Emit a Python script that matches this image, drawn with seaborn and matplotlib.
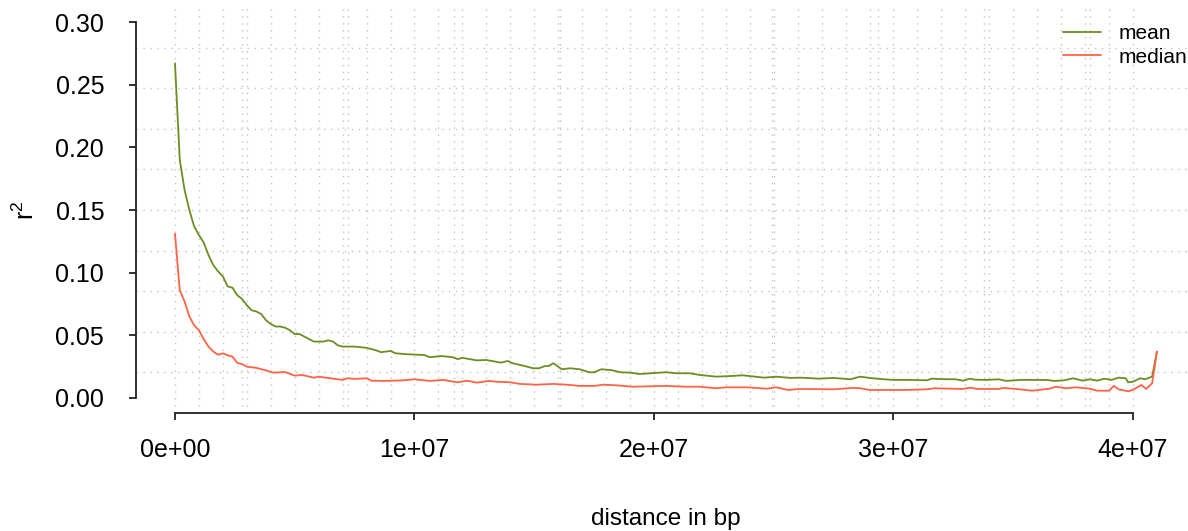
import numpy as np
import pandas as pd
import matplotlib
matplotlib.use("Agg")
import matplotlib.pyplot as plt
import seaborn as sns

# ---------------- data (distance in Mb, r^2) ----------------
mean_dist_mb = [0.0, 0.2, 0.4, 0.6, 0.8, 1.0, 1.2, 1.4, 1.6, 1.8, 2.0, 2.2, 2.4, 2.6, 2.8,
                3.0, 3.2, 3.4, 3.6, 3.8, 4.0, 4.2, 4.4, 4.6, 4.8, 5.0, 5.2, 5.5, 5.8, 6.2,
                6.4, 6.6, 6.8, 7.0, 7.5, 8.0, 8.2, 8.4, 8.6, 9.0, 9.2, 9.6, 10.0, 10.4, 10.65,
                11.1, 11.6, 11.8, 12.0, 12.6, 13.0, 13.6, 13.9, 14.1, 14.6, 14.95, 15.2, 15.45,
                15.6, 15.8, 16.15, 16.5, 16.9, 17.3, 17.5, 17.8, 18.2, 18.6, 19.0, 19.4, 20.0,
                20.5, 20.95, 21.5, 21.9, 22.6, 23.3, 23.7, 24.6, 25.1, 25.7, 26.1, 26.9, 27.5,
                28.2, 28.6, 29.0, 29.4, 30.0, 30.7, 31.4, 31.6, 32.1, 32.6, 32.9, 33.2, 33.4,
                33.9, 34.4, 34.7, 35.3, 35.8, 36.4, 36.7, 37.1, 37.5, 37.9, 38.2, 38.5, 38.8,
                39.1, 39.4, 39.7, 39.8, 40.0, 40.3, 40.5, 40.8, 41.0]
mean_r2 = [0.267, 0.190, 0.166, 0.150, 0.137, 0.130, 0.124, 0.114, 0.106, 0.101, 0.097, 0.089,
           0.088, 0.082, 0.079, 0.074, 0.070, 0.069, 0.067, 0.062, 0.059, 0.057, 0.057, 0.056,
           0.054, 0.051, 0.051, 0.048, 0.045, 0.045, 0.046, 0.045, 0.042, 0.041, 0.041, 0.040,
           0.039, 0.038, 0.0365, 0.0375, 0.0357, 0.0350, 0.0346, 0.0343, 0.0325, 0.0335, 0.0325,
           0.0310, 0.0320, 0.0300, 0.0303, 0.0282, 0.0295, 0.0277, 0.0255, 0.0237, 0.0237,
           0.0255, 0.0255, 0.0277, 0.0229, 0.0237, 0.0229, 0.0205, 0.0205, 0.0229, 0.0223,
           0.0205, 0.0202, 0.0191, 0.0199, 0.0205, 0.0197, 0.0197, 0.0184, 0.0170, 0.0176,
           0.0181, 0.0162, 0.0170, 0.0160, 0.0162, 0.0154, 0.0160, 0.0149, 0.0170, 0.0160,
           0.0152, 0.0144, 0.0144, 0.0141, 0.0154, 0.0150, 0.0149, 0.0138, 0.0154, 0.0146,
           0.0144, 0.0149, 0.0136, 0.0144, 0.0144, 0.0144, 0.0136, 0.0140, 0.0157, 0.0138,
           0.0149, 0.0138, 0.0154, 0.0144, 0.0162, 0.0157, 0.0125, 0.0130, 0.0157, 0.0149,
           0.0170, 0.0370]

median_dist_mb = [0.0, 0.2, 0.4, 0.6, 0.8, 1.0, 1.2, 1.4, 1.6, 1.8, 2.0, 2.2, 2.4, 2.6, 2.8,
                  3.0, 3.4, 3.8, 4.1, 4.6, 5.0, 5.3, 5.8, 6.0, 6.3, 7.0, 7.2, 7.5, 8.0, 8.2,
                  8.7, 9.5, 10.0, 10.65, 11.2, 11.8, 12.2, 12.6, 13.1, 13.4, 14.0, 14.4, 15.1,
                  15.8, 16.35, 16.9, 17.5, 17.9, 18.5, 19.1, 20.5, 21.3, 21.9, 22.6, 23.0, 23.9,
                  24.7, 25.1, 25.6, 26.1, 27.5, 28.3, 28.6, 29.0, 30.0, 30.55, 31.4, 31.7, 32.9,
                  33.2, 33.5, 34.4, 34.6, 35.1, 35.8, 36.5, 36.8, 37.2, 37.6, 38.2, 38.5, 39.0,
                  39.2, 39.4, 39.8, 40.0, 40.35, 40.55, 40.8, 41.0]
median_r2 = [0.131, 0.086, 0.077, 0.065, 0.058, 0.054, 0.047, 0.041, 0.037, 0.0345, 0.0356,
             0.0340, 0.0330, 0.0280, 0.0270, 0.0250, 0.0240, 0.0220, 0.0202, 0.0207, 0.0178,
             0.0184, 0.0162, 0.0170, 0.0162, 0.0144, 0.0157, 0.0152, 0.0157, 0.0138, 0.0136,
             0.0140, 0.0149, 0.0136, 0.0144, 0.0125, 0.0138, 0.0122, 0.0136, 0.0130, 0.0125,
             0.0112, 0.0106, 0.0112, 0.0106, 0.0096, 0.0096, 0.0106, 0.0100, 0.0090, 0.0096,
             0.0090, 0.0090, 0.0077, 0.0085, 0.0085, 0.0074, 0.0085, 0.0064, 0.0072, 0.0069,
             0.0080, 0.0078, 0.0064, 0.0064, 0.0064, 0.0069, 0.0077, 0.0072, 0.0082, 0.0072,
             0.0072, 0.0080, 0.0072, 0.0058, 0.0074, 0.0090, 0.0077, 0.0085, 0.0074, 0.0058,
             0.0058, 0.0096, 0.0069, 0.0053, 0.0065, 0.0104, 0.0072, 0.0117, 0.0370]

series_names = ["mean", "median"]
series_colors = ["#6B8E23", "#FF6347"]
x_ticks = [0, 1e7, 2e7, 3e7, 4e7]
x_tick_labels = ["0e+00", "1e+07", "2e+07", "3e+07", "4e+07"]
y_ticks = [0.00, 0.05, 0.10, 0.15, 0.20, 0.25, 0.30]
y_tick_labels = ["0.00", "0.05", "0.10", "0.15", "0.20", "0.25", "0.30"]
x_label = "distance in bp"
y_label = r"r$^{2}$"

# ---------------- style ----------------
sns.set_style("white")
plt.rcParams["font.family"] = ["Liberation Sans", "DejaVu Sans"]
plt.rcParams["mathtext.default"] = "regular"
plt.rcParams["text.color"] = "black"
plt.rcParams["axes.labelcolor"] = "black"

W, H, DPI = 1188, 531, 100
fig = plt.figure(figsize=(W / DPI, H / DPI), dpi=DPI)

# R-style axis ranges (4% extension)
xr = (0.0, 4.1e7)
yr = (0.0, 0.30)
xpad = 0.04 * (xr[1] - xr[0])
ypad = 0.04 * (yr[1] - yr[0])
xlim = (xr[0] - xpad, xr[1] + xpad)
ylim = (yr[0] - ypad, yr[1] + ypad)

# plot-region placement in pixels
left_px, right_px = 135.7, 1196.2
top_px, bottom_px = 7.0, 413.0
ax = fig.add_axes([left_px / W, 1 - bottom_px / H,
                   (right_px - left_px) / W, (bottom_px - top_px) / H])
ax.set_xlim(*xlim)
ax.set_ylim(*ylim)

# grid: dotted lines
grid_kw = dict(color="#C4C4C4", lw=1.0, ls=(0, (1, 4)), zorder=0)
for v in np.arange(0, 4e7 + 1, 1e6):
    ax.axvline(v, **grid_kw)
for k in range(1, 10):
    ax.axvline(xlim[0] + k * (xlim[1] - xlim[0]) / 10, **grid_kw)
    ax.axhline(ylim[0] + k * (ylim[1] - ylim[0]) / 10, **grid_kw)

# lines
df_mean = pd.DataFrame({"distance": np.array(mean_dist_mb) * 1e6, "r2": mean_r2})
df_median = pd.DataFrame({"distance": np.array(median_dist_mb) * 1e6, "r2": median_r2})
sns.lineplot(data=df_mean, x="distance", y="r2", ax=ax, color=series_colors[0],
             lw=1.3, label=series_names[0], zorder=3)
sns.lineplot(data=df_median, x="distance", y="r2", ax=ax, color=series_colors[1],
             lw=1.3, label=series_names[1], zorder=4)

# axes (R style)
for s in ["top", "right"]:
    ax.spines[s].set_visible(False)
ax.spines["left"].set_bounds(0, 0.30)
ax.spines["bottom"].set_bounds(0, 4e7)
for s in ["left", "bottom"]:
    ax.spines[s].set_linewidth(1.3)
    ax.spines[s].set_color("#222222")

ax.set_xticks(x_ticks)
ax.set_xticklabels(x_tick_labels)
ax.set_yticks(y_ticks)
ax.set_yticklabels(y_tick_labels)
ax.tick_params(axis="both", which="major", bottom=True, left=True, direction="out",
               length=5.2, width=1.3, color="#222222", labelsize=18, labelcolor="black")
ax.tick_params(axis="x", pad=12.5)
ax.tick_params(axis="y", pad=17.5)

ax.set_xlabel(x_label, fontsize=17.5, color="black")
ax.xaxis.set_label_coords(0.5, (bottom_px - 508) / (bottom_px - top_px))
ax.set_ylabel(y_label, fontsize=18, color="black")
ax.yaxis.set_label_coords((39 - left_px) / (right_px - left_px), 0.5)

leg = ax.legend(loc="upper right", bbox_to_anchor=(1187 / W, 1 - 24 / H),
                bbox_transform=fig.transFigure, frameon=False, fontsize=15,
                handlelength=1.8, handletextpad=0.85, labelspacing=0.22,
                borderpad=0, borderaxespad=0)
for t in leg.get_texts():
    t.set_color("black")

fig.savefig("out.png", dpi=DPI)
